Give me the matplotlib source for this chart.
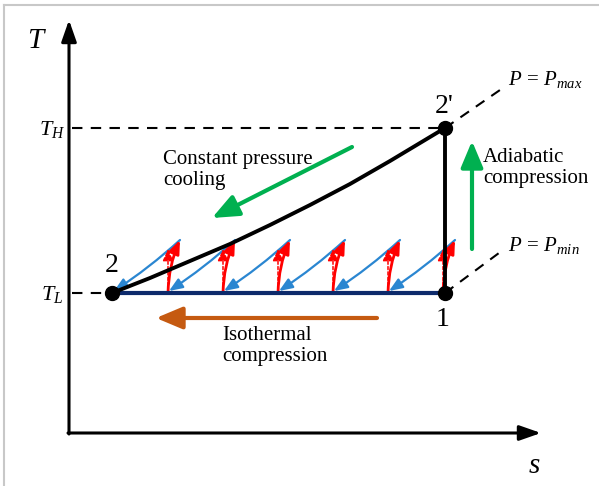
import numpy as np
import matplotlib
matplotlib.use("Agg")
from matplotlib import pyplot as plt
from matplotlib.patches import FancyArrowPatch

plt.rcParams['font.family'] = ['Liberation Serif', 'DejaVu Serif']
plt.rcParams['mathtext.fontset'] = 'custom'
plt.rcParams['mathtext.rm'] = 'Liberation Serif'
plt.rcParams['mathtext.it'] = 'Liberation Serif:italic'

# state points (s, T) in drawing units
point_labels = ["2", "1", "2'"]
point_s = [112, 445, 445]
point_T = [293, 293, 128]

# constant pressure cooling curve 2' -> 2
curve_s = [112, 150, 190, 230, 270, 310, 350, 390, 420, 445]
curve_T = [293, 278, 261, 244, 225, 205, 184, 161, 143, 128]

# small cycles along the isothermal line
cycle_s = [168, 223, 278, 333, 388, 443]
cycle_top_T = 240
cycle_dash_T = 249
cycle_step = 54

# isobar tails
isobar_names = ["$P\\,=\\,P_{max}$", "$P\\,=\\,P_{min}$"]
isobar_end_s = [500, 503]
isobar_end_T = [90, 250]


def arrow(ax, start, end, color, lw, head, rad=0.0, ls='-', ratio=0.45):
    a = FancyArrowPatch(start, end, arrowstyle='-|>,head_length=%g,head_width=%g' % (head, head * ratio),
                        connectionstyle='arc3,rad=%g' % rad, color=color, lw=lw, linestyle=ls,
                        shrinkA=0, shrinkB=0, mutation_scale=1)
    ax.add_patch(a)


def main():
    fig = plt.figure(figsize=(5.99, 4.86), dpi=100)
    ax = fig.add_axes([0, 0, 1, 1])
    ax.set_xlim(0, 599)
    ax.set_ylim(486, 0)
    ax.axis('off')

    # frame lines at top / left
    ax.plot([4, 599], [5, 5], color='#c8c8c8', lw=1.5)
    ax.plot([4, 4], [5, 486], color='#c8c8c8', lw=1.5)

    # axes
    arrow(ax, (69, 434), (69, 20), 'black', 2.2, 13, ratio=0.35)
    arrow(ax, (68, 433), (541, 433), 'black', 2.2, 13, ratio=0.35)
    ax.text(37, 41, '$T$', fontsize=21, ha='center', va='center')
    ax.text(534, 466, '$s$', fontsize=21, ha='center', va='center')

    # T_H and T_L guides
    ax.plot([72, point_s[2]], [point_T[2], point_T[2]], 'k--', lw=1.5, dashes=(5, 4))
    ax.plot([72, point_s[0]], [point_T[0], point_T[0]], 'k--', lw=1.5, dashes=(5, 4))
    ax.text(52, point_T[2] + 1, '$T_H$', fontsize=16, ha='center', va='center')
    ax.text(52, point_T[0] + 1, '$T_L$', fontsize=16, ha='center', va='center')

    # isobar dashed tails
    ax.plot([point_s[2], isobar_end_s[0]], [point_T[2], isobar_end_T[0]], 'k--', lw=1.5, dashes=(5, 4))
    ax.plot([point_s[1], isobar_end_s[1]], [point_T[1], isobar_end_T[1]], 'k--', lw=1.5, dashes=(5, 4))
    ax.text(508, 80, isobar_names[0], fontsize=15, ha='left', va='center')
    ax.text(508, 245, isobar_names[1], fontsize=15, ha='left', va='center')

    # cycles
    for s in cycle_s:
        arrow(ax, (s + 12, cycle_top_T), (s - cycle_step, point_T[0] - 2), '#2a86d1', 1.6, 8, rad=-0.04, ratio=0.4)
    for s in cycle_s:
        arrow(ax, (s, point_T[0] - 2), (s, cycle_dash_T), 'red', 1.1, 7, ls=(0, (2, 1.5)), ratio=0.45)
        arrow(ax, (s, point_T[0]), (s + 12, cycle_top_T), 'red', 2.0, 8, rad=-0.1, ratio=0.4)

    # process lines
    ax.plot([point_s[0], point_s[1]], [point_T[0], point_T[1]], color='#0d2a6b', lw=3, zorder=3)
    ax.plot(curve_s, curve_T, color='black', lw=2.8, zorder=3)
    ax.plot([point_s[1], point_s[2]], [point_T[1], point_T[2]], color='black', lw=2.8, zorder=3)
    ax.plot(point_s, point_T, 'o', color='black', ms=10, zorder=4)

    ax.text(112, 265, point_labels[0], fontsize=20, ha='center', va='center')
    ax.text(443, 319, point_labels[1], fontsize=20, ha='center', va='center')
    ax.text(444, 106, point_labels[2], fontsize=20, ha='center', va='center')

    # process arrows and captions
    arrow(ax, (352, 147), (212, 218), '#00b050', 3.0, 16, ratio=0.42)
    arrow(ax, (472, 249), (472, 141), '#00b050', 3.0, 16, ratio=0.42)
    arrow(ax, (377, 318), (156, 318), '#c55a11', 3.0, 16, ratio=0.42)

    ax.text(163, 170, 'Constant pressure\ncooling', fontsize=15, ha='left', va='center', linespacing=1.2)
    ax.text(483, 168, 'Adiabatic\ncompression', fontsize=15, ha='left', va='center', linespacing=1.2)
    ax.text(222, 346, 'Isothermal\ncompression', fontsize=15, ha='left', va='center', linespacing=1.1)

    fig.savefig('out.png', dpi=100)


if __name__ == "__main__":
    main()
